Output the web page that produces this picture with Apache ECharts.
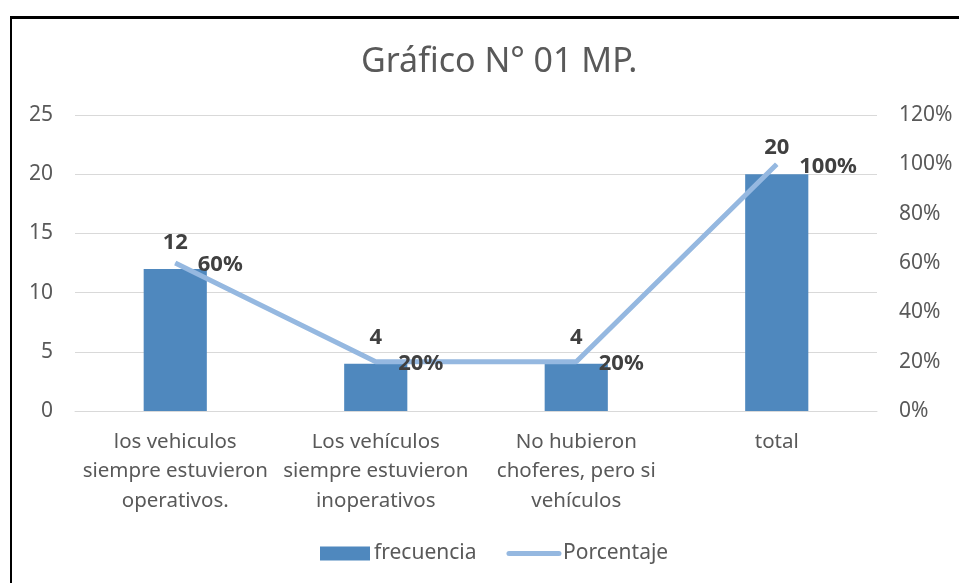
<!DOCTYPE html>
<html>
<head>
<meta charset="utf-8">
<script src="https://cdn.jsdelivr.net/npm/echarts@6/dist/echarts.min.js"></script>
<style>
  html, body { margin: 0; padding: 0; background: #fff; overflow: hidden; }
  #chart { width: 959px; height: 583px; }
  .frame { position: absolute; left: 10px; top: 16px; width: 1000px; height: 1000px;
           border-left: 2px solid #000; border-top: 3px solid #000; pointer-events: none; }
</style>
</head>
<body>
<div id="chart"></div>
<div class="frame"></div>
<script>
const categories = [
  'los vehiculos\nsiempre estuvieron\noperativos.',
  'Los vehículos\nsiempre estuvieron\ninoperativos',
  'No hubieron\nchoferes, pero si\nvehículos',
  'total'
]
const frecuencia = [12, 4, 4, 20]
const porcentaje = [60, 20, 20, 100]
const leftTicks = [0, 25, 5]
const rightTicks = [0, 120, 20]

const font = '"Noto Sans", "Open Sans", sans-serif'

const chart = echarts.init(document.getElementById('chart'))
chart.setOption({
  animation: false,
  backgroundColor: '#fff',
  textStyle: { fontFamily: font },
  title: {
    text: 'Gráfico N° 01 MP.',
    left: 356,
    top: 40,
    textStyle: { fontFamily: font, fontSize: 34, fontWeight: 'normal', color: '#595959' }
  },
  legend: {
    bottom: 14,
    left: 315,
    itemGap: 30,
    itemWidth: 50,
    itemHeight: 14,
    textStyle: { fontFamily: font, fontSize: 21, color: '#595959', padding: [0, 0, 0, -1] },
    data: [
      { name: 'frecuencia', icon: 'rect' },
      { name: 'Porcentaje', itemStyle: { opacity: 0 }, lineStyle: { width: 5, cap: 'round' } }
    ]
  },
  grid: { left: 75, right: 82, top: 115, bottom: 172 },
  xAxis: {
    type: 'category',
    data: categories,
    axisLine: { lineStyle: { color: '#D9D9D9', width: 1 } },
    axisTick: { show: false },
    axisLabel: { color: '#595959', fontSize: 20.5, lineHeight: 29.5, margin: 16, interval: 0 }
  },
  yAxis: [
    {
      type: 'value',
      min: leftTicks[0], max: leftTicks[1], interval: leftTicks[2],
      axisLine: { show: false },
      axisTick: { show: false },
      axisLabel: { color: '#595959', fontSize: 21, margin: 22 },
      splitLine: { lineStyle: { color: '#D9D9D9', width: 1 } }
    },
    {
      type: 'value',
      min: rightTicks[0], max: rightTicks[1], interval: rightTicks[2],
      axisLine: { show: false },
      axisTick: { show: false },
      axisLabel: { color: '#595959', fontSize: 21, margin: 22, formatter: '{value}%' },
      splitLine: { show: false }
    }
  ],
  series: [
    {
      name: 'frecuencia',
      type: 'bar',
      data: frecuencia,
      barWidth: '31.5%',
      itemStyle: { color: '#4F88BE' },
      label: { show: true, position: 'top', distance: 15, color: '#404040', fontWeight: 'bold', fontSize: 22 }
    },
    {
      name: 'Porcentaje',
      type: 'line',
      yAxisIndex: 1,
      data: porcentaje,
      symbol: 'circle',
      symbolSize: 1,
      itemStyle: { color: '#95B8E0' },
      lineStyle: { color: '#95B8E0', width: 5 },
      label: {
        show: true, position: 'right', distance: 22, offset: [0, 2],
        color: '#404040', fontWeight: 'bold', fontSize: 22,
        formatter: '{c}%'
      }
    }
  ]
})
</script>
</body>
</html>
